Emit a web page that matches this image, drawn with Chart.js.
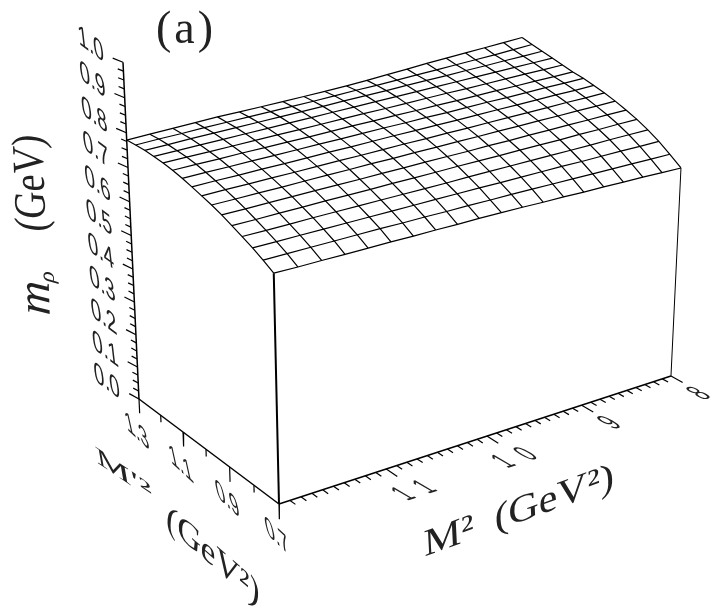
<!DOCTYPE html>
<html>
<head>
<meta charset="utf-8">
<title>m_rho surface</title>
<script src="https://cdn.jsdelivr.net/npm/chart.js@4"></script>
<style>
  html, body { margin: 0; padding: 0; background: #fff; }
  canvas { display: block; }
</style>
</head>
<body>
<canvas id="surface" width="722" height="607"></canvas>
<script>
// grid of the surface
const mSquared = [12.00,11.79,11.58,11.37,11.16,10.95,10.74,10.53,10.32,10.11,9.89,9.68,9.47,9.26,9.05,8.84,8.63,8.42,8.21,8.00];
const mPrimeSquared = [0.70,0.74,0.78,0.82,0.86,0.90,0.94,0.98,1.02,1.06,1.10,1.14,1.18,1.22,1.26,1.30];

// m_rho, one row for each M'^2, columns follow mSquared
const rho070 = [.652,.652,.653,.653,.654,.655,.655,.656,.656,.657,.657,.657,.656,.656,.655,.655,.654,.654,.653,.652];
const rho074 = [.670,.671,.672,.673,.674,.675,.675,.676,.676,.677,.677,.678,.678,.678,.678,.678,.678,.678,.678,.678];
const rho078 = [.686,.687,.688,.689,.690,.691,.692,.693,.694,.695,.696,.696,.697,.698,.699,.699,.700,.701,.701,.702];
const rho082 = [.700,.701,.702,.704,.705,.706,.707,.708,.709,.710,.712,.713,.714,.715,.716,.717,.718,.720,.721,.722];
const rho086 = [.713,.714,.716,.717,.719,.720,.721,.723,.724,.725,.727,.728,.729,.731,.732,.733,.735,.736,.738,.739];
const rho090 = [.726,.727,.729,.730,.732,.733,.734,.736,.737,.739,.740,.741,.743,.744,.746,.747,.749,.750,.752,.753];
const rho094 = [.737,.738,.740,.741,.743,.745,.746,.748,.749,.751,.752,.754,.755,.757,.758,.760,.761,.763,.764,.766];
const rho098 = [.746,.748,.749,.751,.752,.754,.756,.757,.759,.761,.762,.764,.765,.767,.769,.770,.772,.774,.775,.777];
const rho102 = [.755,.757,.758,.760,.761,.763,.765,.766,.768,.770,.771,.773,.774,.776,.778,.779,.781,.783,.784,.786];
const rho106 = [.763,.765,.766,.768,.769,.771,.773,.774,.776,.778,.779,.781,.782,.784,.786,.787,.789,.791,.792,.794];
const rho110 = [.770,.772,.773,.775,.776,.778,.779,.781,.783,.784,.786,.787,.789,.790,.792,.794,.795,.797,.798,.800];
const rho114 = [.775,.777,.778,.780,.782,.784,.785,.787,.789,.791,.792,.794,.796,.798,.799,.801,.803,.805,.806,.808];
const rho118 = [.778,.780,.782,.784,.786,.788,.790,.792,.794,.796,.798,.800,.802,.804,.806,.808,.810,.812,.814,.816];
const rho122 = [.780,.782,.785,.787,.789,.791,.793,.795,.797,.800,.802,.804,.807,.809,.811,.814,.816,.819,.821,.824];
const rho126 = [.780,.783,.785,.788,.790,.792,.794,.796,.798,.801,.804,.806,.809,.812,.815,.818,.821,.824,.828,.832];
const rho130 = [.779,.782,.785,.788,.791,.792,.794,.796,.798,.800,.803,.807,.812,.816,.821,.825,.829,.833,.837,.841];
const rhoRows = [rho070,rho074,rho078,rho082,rho086,rho090,rho094,rho098,rho102,rho106,rho110,rho114,rho118,rho122,rho126,rho130];

// axis ticks
const mTicks = [8,8.1,8.2,8.3,8.4,8.5,8.6,8.7,8.8,8.9,9,9.1,9.2,9.3,9.4,9.5,9.6,9.7,9.8,9.9,10,10.1,10.2,10.3,10.4,10.5,10.6,10.7,10.8,10.9,11,11.1,11.2,11.3,11.4,11.5,11.6,11.7,11.8,11.9];
const mMajor = [8,9,10,11];
const mPrimeTicks = [0.7,0.8,0.9,1.0,1.1,1.2,1.3];
const mPrimeMajor = [0.7,0.9,1.1,1.3];
const rhoMajor = [0.0,0.1,0.2,0.3,0.4,0.5,0.6,0.7,0.8,0.9,1.0];

// perspective box, fitted on the corners of the picture
function project(m2, mp2, rho) {
  const u = (12 - m2) / 4, v = (mp2 - 0.7) / 0.6, w = rho;
  const d = 1 + 0.13 * u + 0.09 * v - 0.0623 * w;
  return {
    x: (279 + 479.2 * u - 127.5 * v - 25.1 * w) / d,
    y: (504 - 79.1 * u - 69.09 * v - 371 * w) / d
  };
}

function line(points, width) {
  return { data: points, showLine: true, borderColor: '#000', borderWidth: width || 1.2, pointRadius: 0, tension: 0 };
}

const datasets = [];

// surface mesh
rhoRows.forEach(function (row, i) {
  datasets.push(line(row.map(function (r, j) { return project(mSquared[j], mPrimeSquared[i], r); })));
});
mSquared.forEach(function (m2, j) {
  datasets.push(line(rhoRows.map(function (row, i) { return project(m2, mPrimeSquared[i], row[j]); })));
});

// box edges
datasets.push(line([project(12, 1.3, 0), project(12, 1.3, 1)], 1.5));
datasets.push(line([project(12, 0.7, 0), project(12, 0.7, rho070[0])], 2));
datasets.push(line([project(8, 0.7, 0), project(8, 0.7, rho070[19])], 1));
datasets.push(line([project(12, 1.3, 0), project(12, 0.7, 0)], 1.5));
datasets.push(line([project(12, 0.7, 0), project(8, 0.7, 0)], 1.5));

// ticks on M^2
mTicks.forEach(function (m2) {
  const dv = mMajor.includes(m2) ? 0.07 : 0.035;
  datasets.push(line([project(m2, 0.7, 0), project(m2, 0.7 - dv * 0.6, 0)]));
});
// ticks on M'^2
mPrimeTicks.forEach(function (mp2) {
  const dw = mPrimeMajor.includes(mp2) ? 0.045 : 0.022;
  datasets.push(line([project(12, mp2, 0), project(12, mp2, -dw)]));
});
// ticks on m_rho, every 0.025
for (let k = 0; k <= 40; k++) {
  const len = k % 4 === 0 ? 1 : 0.55;
  datasets.push(line([project(12, 1.3, k / 40), project(12 + 0.018 * len, 1.3 + 0.037 * len, k / 40)]));
}

// text laid on the box: a,b is the run of the text, c,d the way down the glyphs
const numFont = '30px "Liberation Sans"';
const labels = [];
rhoMajor.forEach(function (r) {
  const p = project(12, 1.3, r);
  labels.push({ text: r.toFixed(1), x: p.x - 32, y: p.y - 17, m: [0.62, 0.46, 0.12, 1], font: numFont });
});
mPrimeMajor.forEach(function (mp2) {
  const p = project(12, mp2, 0);
  labels.push({ text: mp2.toFixed(1), x: p.x - 2, y: p.y + 33, m: [0.56, 0.52, 0.22, 1], font: numFont });
});
mMajor.forEach(function (m2) {
  const p = project(m2, 0.7, 0);
  if (m2 < 10) {
    labels.push({ text: String(m2), x: p.x + 29, y: p.y + 18, m: [0.6, -0.2, 0.95, 0.55], font: numFont });
  } else {
    labels.push({ text: String(m2), x: p.x + 35, y: p.y + 20, m: [0.6, -0.2, 0.95, 0.55], font: numFont, spacing: '21px' });
  }
});
labels.push({ text: '(a)', x: 186, y: 31, m: [1, 0, 0, 1], font: '46px "Liberation Serif"', spacing: '3px' });
labels.push({ text: 'M²  (GeV²)', x: 519, y: 512, m: [1.1, -0.4, 0.05, 1], font: '38px "Liberation Serif"' });
labels.push({ text: 'M′²', x: 124, y: 475, m: [1.25, 0.85, 0.35, 0.9], font: 'italic 34px "Liberation Serif"' });
labels.push({ text: '(GeV²)', x: 213, y: 557, m: [1.02, 0.88, -0.1, 1.05], font: '32px "Liberation Serif"' });
labels.push({ text: '(GeV)', x: 32, y: 183, m: [-0.04, -1.05, 1.25, 0.1], font: '36px "Liberation Serif"' });
labels.push({ text: 'm', x: 37, y: 298, m: [-0.04, -1.3, 1.3, 0.1], font: 'italic 36px "Liberation Serif"' });
labels.push({ text: 'ρ', x: 48, y: 277, m: [-0.04, -1.05, 1, 0.1], font: 'italic 22px "Liberation Serif"' });

const textPlugin = {
  id: 'boxText',
  afterDraw: function (chart) {
    const ctx = chart.ctx;
    labels.forEach(function (l) {
      ctx.save();
      ctx.transform(l.m[0], l.m[1], l.m[2], l.m[3], l.x, l.y);
      ctx.font = l.font;
      ctx.letterSpacing = l.spacing || '0px';
      ctx.fillStyle = '#222';
      ctx.textAlign = 'center';
      ctx.textBaseline = 'middle';
      ctx.fillText(l.text, 0, 0);
      ctx.restore();
    });
  }
};

window.addEventListener('load', function () {
  new Chart(document.getElementById('surface'), {
    type: 'scatter',
    data: { datasets: datasets },
    plugins: [textPlugin],
    options: {
      responsive: false,
      animation: false,
      layout: { padding: 0 },
      plugins: { legend: { display: false }, tooltip: { enabled: false } },
      scales: {
        x: { type: 'linear', min: 0, max: 722, display: false },
        y: { type: 'linear', min: 0, max: 607, reverse: true, display: false }
      }
    }
  });
});
</script>
</body>
</html>
